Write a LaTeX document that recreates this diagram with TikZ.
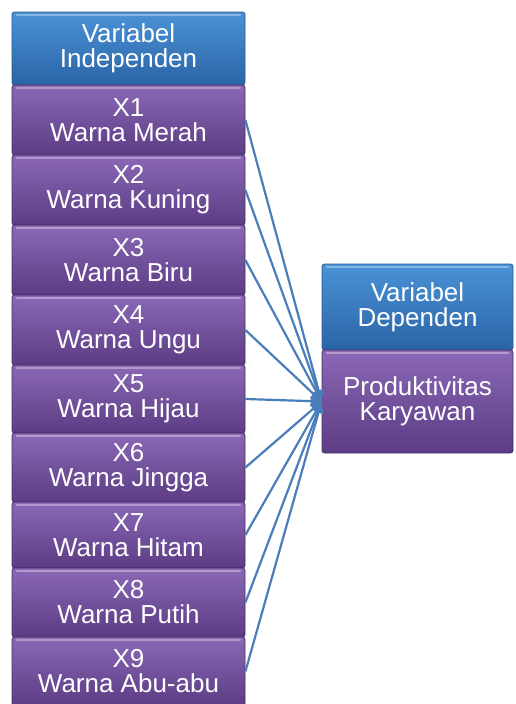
\documentclass[tikz,border=0pt]{standalone}
\usepackage{fontspec}
\setmainfont{Liberation Sans}
\usetikzlibrary{arrows.meta}
\definecolor{blueTop}{HTML}{4A92D6}
\definecolor{blueBot}{HTML}{2A64A6}
\definecolor{blueEdge}{HTML}{2B5A8E}
\definecolor{purTop}{HTML}{8A68B6}
\definecolor{purBot}{HTML}{5C3C84}
\definecolor{purEdge}{HTML}{463062}
\definecolor{connBlue}{HTML}{4A7EBB}
\newcommand\boxfont{\fontsize{26}{25}\selectfont}
\begin{document}
\begin{tikzpicture}[x=1pt,y=-1pt,
  basebox/.style={rectangle, rounded corners=2.5pt, line width=0.8pt, text=white,
    font=\boxfont, align=center, inner sep=0pt,
    path picture={\draw[white, opacity=0.35, line width=2.5pt, line cap=round]
      ([xshift=5pt,yshift=-3pt]path picture bounding box.north west) --
      ([xshift=-5pt,yshift=-3pt]path picture bounding box.north east);}},
  bluebox/.style={basebox, draw=blueEdge, top color=blueTop, bottom color=blueBot},
  purbox/.style={basebox, draw=purEdge, top color=purTop, bottom color=purBot},
  conn/.style={draw=connBlue, line width=2.2pt, -{Triangle[length=11pt,width=10pt]}}]
\useasboundingbox (0,0) rectangle (515,704);
\clip (0,0) rectangle (515,704);
% left column
\node[bluebox, minimum width=233pt, minimum height=73pt] (indep) at (128.5,48.5) {Variabel\\Independen};
\node[purbox, minimum width=233pt, minimum height=70pt] (x1) at (128.5,120) {X1\\Warna Merah};
\node[purbox, minimum width=233pt, minimum height=70pt] (x2) at (128.5,190) {X2\\Warna Kuning};
\node[purbox, minimum width=233pt, minimum height=70pt] (x3) at (128.5,260) {X3\\Warna Biru};
\node[purbox, minimum width=233pt, minimum height=70pt] (x4) at (128.5,330) {X4\\Warna Ungu};
\node[purbox, minimum width=233pt, minimum height=68pt] (x5) at (128.5,399) {X5\\Warna Hijau};
\node[purbox, minimum width=233pt, minimum height=69pt] (x6) at (128.5,467.5) {X6\\Warna Jingga};
\node[purbox, minimum width=233pt, minimum height=66pt] (x7) at (128.5,535) {X7\\Warna Hitam};
\node[purbox, minimum width=233pt, minimum height=69pt] (x8) at (128.5,602.5) {X8\\Warna Putih};
\node[purbox, minimum width=233pt, minimum height=69pt] (x9) at (128.5,671.5) {X9\\Warna Abu-abu};
% right column
\node[bluebox, minimum width=191pt, minimum height=86pt] (dep) at (417.5,307) {Variabel\\Dependen};
\node[purbox, minimum width=191pt, minimum height=103pt] (prod) at (417.5,401.5) {Produktivitas\\Karyawan};
% connectors
\foreach \i in {1,...,9} \draw[conn] (x\i.east) -- (prod.west);
\end{tikzpicture}
\end{document}
